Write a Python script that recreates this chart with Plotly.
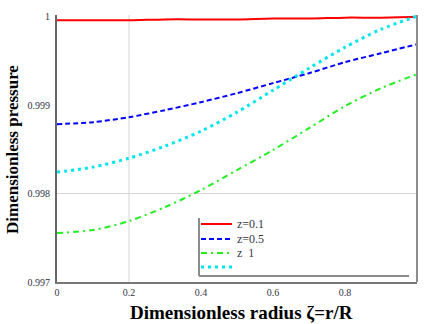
import plotly.graph_objects as go

# Dimensionless radius samples
radius = [0.0, 0.1, 0.2, 0.3, 0.4, 0.5, 0.6, 0.7, 0.8, 0.9, 1.0]

# Dimensionless pressure profiles at several axial positions
p_z01 = [0.99996, 0.99996, 0.99996, 0.99997, 0.99997, 0.99997,
         0.99998, 0.99998, 0.99999, 0.99999, 1.00000]
p_z05 = [0.998785, 0.998808, 0.998864, 0.998944, 0.999034, 0.999136,
         0.999249, 0.999362, 0.999486, 0.999588, 0.999689]
p_z1 = [0.997554, 0.997588, 0.997689, 0.997847, 0.998040, 0.998266,
        0.998492, 0.998740, 0.998989, 0.999192, 0.999350]
p_extra = [0.998243, 0.998299, 0.998401, 0.998537, 0.998706, 0.998921,
           0.999169, 0.999418, 0.999655, 0.999859, 1.000006]

series_names = ["z=0.1", "z=0.5", "z  1", ""]
x_ticks = [0, 0.2, 0.4, 0.6, 0.8]
x_tick_text = ["0", "0.2", "0.4", "0.6", "0.8"]
y_ticks = [0.997, 0.998, 0.999, 1.0]
y_tick_text = ["0.997", "0.998", "0.999", "1"]

SERIF = "Liberation Serif, Times New Roman, serif"

styles = [
    dict(color="#ff0000", width=2, dash="solid"),
    dict(color="#0000ff", width=2, dash="5px,3px"),
    dict(color="#22ee22", width=2, dash="6px,4px,2px,4px"),
    dict(color="#00e5ee", width=3, dash="3px,4px"),
]
series = [p_z01, p_z05, p_z1, p_extra]

fig = go.Figure()
for name, ys, st in zip(series_names, series, styles):
    fig.add_trace(go.Scatter(
        x=radius, y=ys, mode="lines", name=name, showlegend=False,
        line=dict(color=st["color"], width=st["width"], dash=st["dash"],
                  shape="spline", smoothing=0.8),
    ))

W, H = 430, 324
L, R, T, B = 57, 13, 15, 42
pw, ph = W - L - R, H - T - B


def px_x(p):
    return (p - L) / pw


def px_y(p):
    return (H - B - p) / ph


# Single highlighted grid lines
fig.add_shape(type="line", xref="x", yref="paper", x0=0.2, x1=0.2, y0=0, y1=1,
              line=dict(color="#d4d4d4", width=1), layer="below")
fig.add_shape(type="line", xref="paper", yref="y", x0=0, x1=1, y0=0.998, y1=0.998,
              line=dict(color="#d4d4d4", width=1), layer="below")
# Right frame line
fig.add_shape(type="line", xref="paper", yref="paper", x0=1, x1=1, y0=0, y1=1,
              line=dict(color="#8c8c8c", width=2))

# Legend frame (left and bottom edges)
fig.add_shape(type="line", xref="paper", yref="paper",
              x0=px_x(199), x1=px_x(199), y0=px_y(218), y1=px_y(276),
              line=dict(color="#8c8c8c", width=2))
fig.add_shape(type="line", xref="paper", yref="paper",
              x0=px_x(199), x1=px_x(409), y0=px_y(276), y1=px_y(276),
              line=dict(color="#8c8c8c", width=2))

# Legend entries: sample line plus label
row_y = [224, 239, 253, 267]
for name, st, ry in zip(series_names, styles, row_y):
    fig.add_shape(type="line", xref="paper", yref="paper",
                  x0=px_x(201), x1=px_x(232), y0=px_y(ry), y1=px_y(ry),
                  line=dict(color=st["color"], width=st["width"], dash=st["dash"]))
    if name:
        fig.add_annotation(text=name, xref="paper", yref="paper",
                           x=px_x(235), y=px_y(ry), xanchor="left", yanchor="middle",
                           showarrow=False,
                           font=dict(family=SERIF, size=12, color="#333344"))

fig.update_layout(
    width=W, height=H,
    margin=dict(l=L, r=R, t=T, b=B),
    paper_bgcolor="white", plot_bgcolor="white",
    showlegend=False,
    font=dict(family=SERIF, color="#333344"),
)
fig.update_xaxes(
    range=[0, 1], tickvals=x_ticks, ticktext=x_tick_text,
    showgrid=False, zeroline=False, showline=True, linecolor="#777777", linewidth=2,
    ticks="", tickfont=dict(family=SERIF, size=10, color="#333344"),
)
fig.update_yaxes(
    range=[0.997, 1.00002], tickvals=y_ticks, ticktext=y_tick_text,
    showgrid=False, zeroline=False, showline=True, linecolor="#666666", linewidth=2,
    ticks="", ticklabelstandoff=3, tickfont=dict(family=SERIF, size=10, color="#333344"),
)

# Axis titles
fig.add_annotation(text="<b>Dimensionless radius ζ=r/R</b>", xref="paper", yref="paper",
                   x=px_x(242), y=px_y(312), xanchor="center", yanchor="middle",
                   showarrow=False,
                   font=dict(family=SERIF, size=19, color="black"))
fig.add_annotation(text="<b>Dimensionless pressure</b>", xref="paper", yref="paper",
                   x=px_x(12), y=px_y(150), xanchor="center", yanchor="middle",
                   showarrow=False, textangle=-90,
                   font=dict(family=SERIF, size=17, color="black"))

fig.write_html("out.html")
